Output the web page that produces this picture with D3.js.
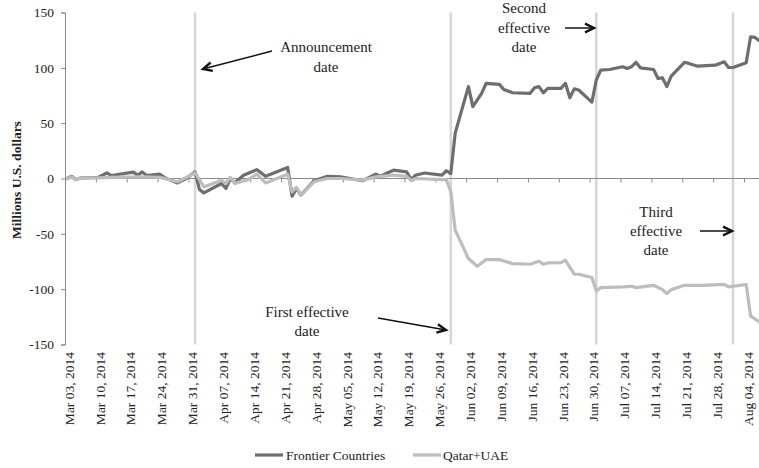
<!DOCTYPE html>
<html>
<head>
<meta charset="utf-8">
<script src="https://cdn.jsdelivr.net/npm/d3@7/dist/d3.min.js"></script>
<style>
  html, body { margin: 0; padding: 0; background: #fff; }
  svg { display: block; }
  text { font-family: "Liberation Serif", "DejaVu Serif", serif; fill: #222; }
</style>
</head>
<body>
<svg id="chart" width="759" height="468"></svg>
<script>
// ---------- DATA ----------
const tickLabels = ["Mar 03, 2014","Mar 10, 2014","Mar 17, 2014","Mar 24, 2014","Mar 31, 2014",
  "Apr 07, 2014","Apr 14, 2014","Apr 21, 2014","Apr 28, 2014","May 05, 2014","May 12, 2014",
  "May 19, 2014","May 26, 2014","Jun 02, 2014","Jun 09, 2014","Jun 16, 2014","Jun 23, 2014",
  "Jun 30, 2014","Jul 07, 2014","Jul 14, 2014","Jul 21, 2014","Jul 28, 2014","Aug 04, 2014"];
const yTicks = [150, 100, 50, 0, -50, -100, -150];

const frontierDates = ["2014-03-03","2014-03-04","2014-03-05","2014-03-06","2014-03-10","2014-03-12","2014-03-13","2014-03-18","2014-03-19","2014-03-20","2014-03-21","2014-03-24","2014-03-25","2014-03-28","2014-03-30",
  "2014-04-01","2014-04-02","2014-04-03","2014-04-07","2014-04-08","2014-04-09","2014-04-10","2014-04-12","2014-04-15","2014-04-17","2014-04-22","2014-04-23","2014-04-24","2014-04-25","2014-04-28",
  "2014-05-01","2014-05-04","2014-05-09","2014-05-12","2014-05-13","2014-05-16","2014-05-19","2014-05-20","2014-05-21","2014-05-23","2014-05-27","2014-05-28","2014-05-29","2014-05-30",
  "2014-06-02","2014-06-03","2014-06-05","2014-06-06","2014-06-09","2014-06-10","2014-06-12","2014-06-16","2014-06-17","2014-06-18","2014-06-19","2014-06-20","2014-06-23","2014-06-24","2014-06-25","2014-06-26","2014-06-27","2014-06-30",
  "2014-07-01","2014-07-02","2014-07-04","2014-07-07","2014-07-08","2014-07-09","2014-07-10","2014-07-11","2014-07-14","2014-07-15","2014-07-16","2014-07-17","2014-07-18","2014-07-21","2014-07-22","2014-07-24","2014-07-28","2014-07-30","2014-07-31",
  "2014-08-01","2014-08-04","2014-08-05","2014-08-06","2014-08-07"];
const frontierValues = [0,2,-1,0.5,1,5,2.7,5.7,3,6,2.7,3.9,1,-4,0,
  6,-10,-13,-4.5,-9,0,-4,3,8,2,10,-16,-9,-15,-2,
  2,1.5,-2,4,2,7.5,6,-1,3,5,3,7,4.5,41,
  83,65,77,86,85,80.5,77.5,77,82,83,77.5,81.4,81.4,86,73,81,80,69,
  89,98,98.5,101,99.5,101,105,100,98.5,90.4,91,83,92.5,105,104,101.5,102.4,105.4,100.3,
  100.3,104.5,128,127.5,124.4];

const qatarDates = ["2014-03-03","2014-03-04","2014-03-05","2014-03-06","2014-03-10","2014-03-13","2014-03-20","2014-03-24","2014-03-28",
  "2014-04-01","2014-04-03","2014-04-07","2014-04-08","2014-04-09","2014-04-10","2014-04-13","2014-04-15","2014-04-17","2014-04-22","2014-04-23","2014-04-24","2014-04-25","2014-04-28",
  "2014-05-01","2014-05-04","2014-05-09","2014-05-12","2014-05-16","2014-05-19","2014-05-20","2014-05-21","2014-05-27","2014-05-28","2014-05-29","2014-05-30",
  "2014-06-02","2014-06-04","2014-06-06","2014-06-09","2014-06-12","2014-06-16","2014-06-18","2014-06-19","2014-06-20","2014-06-23","2014-06-24","2014-06-26","2014-06-27","2014-06-30",
  "2014-07-01","2014-07-02","2014-07-07","2014-07-09","2014-07-10","2014-07-14","2014-07-16","2014-07-17","2014-07-18","2014-07-21","2014-07-25","2014-07-30","2014-07-31",
  "2014-08-04","2014-08-05","2014-08-07"];
const qatarValues = [0,1.5,-1,0.5,0.5,1,1.5,1,-3,
  5,-7.6,-1.5,-4.5,1,-4.5,-1,3.9,-4,3.9,-12,-8,-15,-3,
  0,0,-1.5,1.5,3,2,-2,0,-1,-1,-12,-46.7,
  -72.3,-79.3,-73.3,-73.3,-76.9,-77.5,-74.8,-77.5,-76.3,-76,-73.9,-86.5,-86.5,-89.5,
  -101.6,-98.6,-98,-97.4,-98.6,-96.5,-100.4,-104,-100.4,-96.5,-96.5,-95.6,-98,
  -95.8,-124.2,-129.6];

const eventDates = ["2014-04-01","2014-05-29","2014-07-01","2014-08-01"];
const seriesNames = ["Frontier Countries", "Qatar+UAE"];
const seriesColors = ["#6e6e6e", "#bdbdbd"];

// ---------- CHART ----------
const svg = d3.select("#chart");
const parseISO = d3.timeParse("%Y-%m-%d");
const parseTick = d3.timeParse("%b %d, %Y");

const x0 = 65, dayPx = 4.409;
const domStart = parseISO("2014-03-03"), domEnd = parseISO("2014-08-08");
const nDays = d3.timeDay.count(domStart, domEnd);
const x = d3.scaleTime().domain([domStart, domEnd]).range([x0, x0 + nDays * dayPx]);
const y = d3.scaleLinear().domain([-150, 150]).range([344.5, 12.5]);
const half = dayPx / 2;
const xp = d => x(d) + half;  // points sit in the middle of their day

const plotRight = 759;

// clip
svg.append("defs").append("clipPath").attr("id", "clip")
  .append("rect").attr("x", x0).attr("y", 0).attr("width", plotRight - x0).attr("height", 468);

// event lines
svg.append("g").selectAll("line").data(eventDates.map(parseISO)).join("line")
  .attr("x1", d => xp(d)).attr("x2", d => xp(d))
  .attr("y1", y(150)).attr("y2", y(-150))
  .attr("stroke", "#d6d6d6").attr("stroke-width", 2.5);

// y axis
const yAxis = d3.axisLeft(y).tickValues(yTicks).tickSize(4).tickPadding(7).tickFormat(d3.format("d"));
const gy = svg.append("g").attr("transform", `translate(${x0},0)`).call(yAxis);
gy.select(".domain").attr("stroke", "#8a8a8a");
gy.selectAll(".tick line").attr("stroke", "#8a8a8a");
gy.selectAll(".tick text").style("font-family", "Liberation Serif").style("font-size", "13.5px").attr("fill", "#222")
  .text(d => d < 0 ? "-" + Math.abs(d) : d);

// x axis at zero
const tickDates = tickLabels.map(parseTick);
const xAxis = d3.axisBottom(x).tickValues(tickDates).tickSize(4).tickFormat("");
const gx = svg.append("g").attr("transform", `translate(0,${y(0)})`).call(xAxis);
gx.select(".domain").attr("d", `M${x0},0H${plotRight}`).attr("stroke", "#8a8a8a");
gx.selectAll(".tick line").attr("stroke", "#8a8a8a");

// x tick labels at the bottom
svg.append("g").selectAll("text").data(tickDates).join("text")
  .attr("transform", (d, i) => `translate(${x(d) + 4},352) rotate(-90)`)
  .attr("text-anchor", "end")
  .attr("dy", "0.35em")
  .style("font-size", "13.5px")
  .text((d, i) => tickLabels[i]);

// y axis title
svg.append("text")
  .attr("transform", "translate(16,180) rotate(-90)")
  .attr("text-anchor", "middle").attr("dy", "0.35em")
  .style("font-size", "13.5px").style("font-weight", "bold")
  .text("Millions U.S. dollars");

// series
const series = [
  { name: seriesNames[0], color: seriesColors[0], dates: frontierDates, values: frontierValues },
  { name: seriesNames[1], color: seriesColors[1], dates: qatarDates, values: qatarValues }
];
const line = d3.line().x(d => xp(d.date)).y(d => y(d.value));
const gLines = svg.append("g").attr("clip-path", "url(#clip)");
series.forEach(s => {
  const pts = s.dates.map((d, i) => ({ date: parseISO(d), value: s.values[i] }));
  gLines.append("path").datum(pts).attr("d", line)
    .attr("fill", "none").attr("stroke", s.color).attr("stroke-width", 3.2)
    .attr("stroke-linejoin", "round").attr("stroke-linecap", "round");
});

// annotations
function arrow(x1, y1, x2, y2) {
  const g = svg.append("g").attr("stroke", "#111").attr("fill", "none");
  g.append("line").attr("x1", x1).attr("y1", y1).attr("x2", x2).attr("y2", y2).attr("stroke-width", 1.5);
  const ang = Math.atan2(y2 - y1, x2 - x1), L = 10, w = 0.45;
  const p1 = [x2 - L * Math.cos(ang - w), y2 - L * Math.sin(ang - w)];
  const p2 = [x2 - L * Math.cos(ang + w), y2 - L * Math.sin(ang + w)];
  g.append("path").attr("d", `M${p1[0]},${p1[1]}L${x2},${y2}L${p2[0]},${p2[1]}`)
    .attr("stroke-width", 2.4).attr("stroke-linejoin", "miter");
}
function label(lines, cx, cy0, gap) {
  lines.forEach((t, i) => {
    svg.append("text").attr("x", cx).attr("y", cy0 + i * gap).attr("dy", "0.35em")
      .attr("text-anchor", "middle").style("font-size", "15px").text(t);
  });
}
label(["Announcement", "date"], 326, 47, 20);
arrow(272, 51, 203, 69);
label(["First effective", "date"], 307, 312, 19);
arrow(378, 318, 446, 330);
label(["Second", "effective", "date"], 524, 8, 19.5);
arrow(565, 28, 594, 28);
label(["Third", "effective", "date"], 656, 212, 19);
arrow(700, 231, 732, 231);

// legend
const legend = svg.append("g");
const legendPos = [{ x: 255, tx: 286 }, { x: 413, tx: 443 }];
series.forEach((s, i) => {
  legend.append("line").attr("x1", legendPos[i].x).attr("x2", legendPos[i].x + 28)
    .attr("y1", 455).attr("y2", 455).attr("stroke", s.color).attr("stroke-width", 3.2);
  legend.append("text").attr("x", legendPos[i].tx).attr("y", 455).attr("dy", "0.35em")
    .style("font-size", "13.5px").text(s.name);
});
</script>
</body>
</html>
